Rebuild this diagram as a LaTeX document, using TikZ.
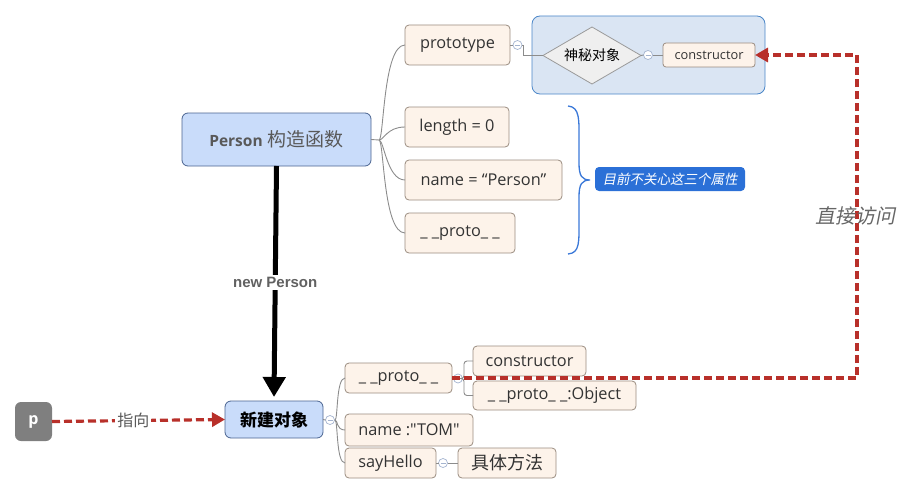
\documentclass[tikz,border=0pt]{standalone}
\usepackage{fontspec}
\setmainfont{Open Sans}
\newfontfamily\osplain{Open Sans}
\newfontfamily\cjk{Noto Sans CJK SC}
\newfontfamily\cjkit{Noto Sans CJK SC}[FakeSlant=0.2]
\newfontfamily\arb{Liberation Sans}
\usetikzlibrary{shapes.geometric,arrows.meta}
\definecolor{pfill}{HTML}{C9DCFA}
\definecolor{pdraw}{HTML}{4A6490}
\definecolor{cfill}{HTML}{FDF3EA}
\definecolor{cdraw}{HTML}{9A8C80}
\definecolor{gfill}{HTML}{DAE5F3}
\definecolor{gdraw}{HTML}{4A86C8}
\definecolor{dfill}{HTML}{EFEFEF}
\definecolor{ddraw}{HTML}{9A9A9A}
\definecolor{nfill}{HTML}{2B70D7}
\definecolor{bracec}{HTML}{3A78D8}
\definecolor{redd}{HTML}{B8302A}
\definecolor{pgray}{HTML}{7F7F7F}
\definecolor{lineg}{HTML}{8C8C8C}
\definecolor{txt}{HTML}{333333}
\definecolor{ccol}{HTML}{A4B4D0}
\tikzset{
  every node/.style={inner sep=0pt, outer sep=0pt},
  mainbox/.style={draw=pdraw, fill=pfill, rounded corners=6pt, line width=0.8pt},
  child/.style={draw=cdraw, fill=cfill, rounded corners=4pt, line width=0.8pt, text=txt, font=\fontsize{16.3}{18}\selectfont},
  conn/.style={draw=lineg, line width=0.9pt},
  cc/.style={circle, draw=ccol, fill=white, minimum size=9pt, line width=0.7pt,
    path picture={\draw[ccol, line width=0.7pt] ([xshift=2pt]path picture bounding box.west) -- ([xshift=-2pt]path picture bounding box.east);}},
  reddash/.style={draw=redd, line width=3.2pt, dash pattern=on 8pt off 4pt, -{Triangle[length=13pt,width=14pt]}},
}
\begin{document}
\begin{tikzpicture}[x=1pt,y=-1pt]
\useasboundingbox (0,0) rectangle (915,495);
% group box
\node[draw=gdraw, fill=gfill, rounded corners=8pt, line width=0.8pt, minimum width=233pt, minimum height=78pt] (grp) at (648.5,55) {};
% Person
\node[mainbox, minimum width=189pt, minimum height=53pt, text=black!65] (person) at (276.5,139.5)
  {{\fontsize{15.5}{18}\selectfont\bfseries Person}\hspace{5pt}{\cjk\fontsize{19}{22}\selectfont 构造函数}};
% children
\node[child, minimum width=105pt, minimum height=40pt] (proto1) at (457.5,45) {prototype};
\node[child, minimum width=104pt, minimum height=40pt] (len) at (457,127) {length = 0};
\node[child, minimum width=157pt, minimum height=40pt] (nameP) at (483.5,180) {name = “Person”};
\node[child, minimum width=110pt, minimum height=40pt] (protoP) at (460,233) {\_ \_proto\_ \_};
% diamond & constructor
\node[diamond, aspect=1.72, draw=ddraw, fill=dfill, line width=0.8pt, minimum width=98pt, minimum height=57pt, font=\cjk\fontsize{14}{16}\selectfont] (dia) at (592,55.5) {神秘对象};
\node[child, minimum width=92pt, minimum height=24pt, rounded corners=3pt, font=\fontsize{12.8}{14}\selectfont] (cons1) at (709,55) {constructor};
% collapse circles
\node[cc] (c1) at (517.5,45) {};
\node[cc] (c2) at (648,55) {};
% connectors Person
\coordinate (ps) at (379,140);
\draw[conn] (person.east) -- (ps);
\draw[conn] (ps) .. controls +(5,0) and +(-22,0) .. (proto1.west);
\draw[conn] (ps) .. controls +(5,0) and +(-18,0) .. (len.west);
\draw[conn] (ps) .. controls +(5,0) and +(-18,0) .. (nameP.west);
\draw[conn] (ps) .. controls +(5,0) and +(-22,0) .. (protoP.west);
\draw[conn] (proto1.east) -- (c1.west);
\draw[conn] (c1.east) -- ++(1.5,0) |- (dia.west);
\draw[conn] (dia.east) -- (c2.west);
\draw[conn] (c2.east) -- (cons1.west);
% brace and note
\draw[bracec, line width=1.3pt] (568,106) .. controls (580,107) and (579,120) .. (579,140)
  -- (579,163) .. controls (579,176) and (582,180) .. (590,180)
  .. controls (582,180) and (579,184) .. (579,197) -- (579,220)
  .. controls (579,242) and (580,253) .. (568,254);
\node[fill=nfill, rounded corners=4pt, minimum width=150pt, minimum height=24pt, text=white, font=\cjkit\fontsize{13.5}{15}\selectfont] (note) at (670,179) {目前不关心这三个属性};
% lower part
\node[mainbox, minimum width=98pt, minimum height=37pt, rounded corners=6pt, font=\cjk\bfseries\fontsize{17}{19}\selectfont] (newobj) at (274,419.5) {新建对象};
\node[fill=pgray, rounded corners=6pt, minimum width=37pt, minimum height=39pt, text=white, font=\bfseries\fontsize{16}{18}\selectfont] (p) at (33.5,421.5) {p};
\node[child, minimum width=107pt, minimum height=30pt] (protoN) at (398.5,378) {\_ \_proto\_ \_};
\node[child, minimum width=128pt, minimum height=32pt, font=\osplain\fontsize{16.3}{18}\selectfont] (nameT) at (409,430) {name :"TOM"};
\node[child, minimum width=91pt, minimum height=30pt] (say) at (390.5,463) {sayHello};
\node[child, minimum width=98pt, minimum height=30pt, font=\cjk\fontsize{18}{20}\selectfont] (meth) at (507,463) {具体方法};
\node[child, minimum width=113pt, minimum height=30pt] (consN) at (529.5,361) {constructor};
\node[child, minimum width=163pt, minimum height=29pt] (protoObj) at (554.5,395.5) {\_ \_proto\_ \_:Object};
\node[cc] (c3) at (330,420) {};
\node[cc] (c4) at (458,378.5) {};
\node[cc] (c5) at (443,463) {};
\coordinate (ns) at (335,420);
\draw[conn] (c3.east) -- (ns);
\draw[conn] (ns) .. controls +(3,0) and +(-9,0) .. (protoN.west);
\draw[conn] (ns) .. controls +(3,0) and +(-9,0) .. (nameT.west);
\draw[conn] (ns) .. controls +(3,0) and +(-9,0) .. (say.west);
\draw[conn] (newobj.east) -- (c3.west);
\draw[conn] (protoN.east) -- (c4.west);
\draw[conn, rounded corners=3pt] (c4.east) -- ++(1.5,0) |- (consN.west);
\draw[conn, rounded corners=3pt] (c4.east) -- ++(1.5,0) |- (protoObj.west);
\draw[conn] (say.east) -- (c5.west);
\draw[conn] (c5.east) -- (meth.west);
% thick arrow
\draw[line width=5pt, -{Triangle[length=20pt,width=22pt]}] (person.south) -- ([yshift=4pt]newobj.north)
  node[pos=0.505, fill=white, inner xsep=1pt, inner ysep=2pt, text=black!62, font=\arb\bfseries\fontsize{15}{17}\selectfont] (np) {new Person};
% red dashed arrows
\draw[reddash] (p.east) -- (newobj.west)
  node[pos=0.47, fill=white, inner xsep=2pt, inner ysep=2pt, text=black!65, font=\cjk\fontsize{16}{18}\selectfont] (zx) {指向};
\coordinate (rc) at (857,55);
\draw[reddash] (protoN.east) -| (rc) -- (cons1.east);
\node[text=black!60, font=\cjkit\fontsize{20}{22}\selectfont] (zj) at (855,216) {直接访问};
\end{tikzpicture}
\end{document}
